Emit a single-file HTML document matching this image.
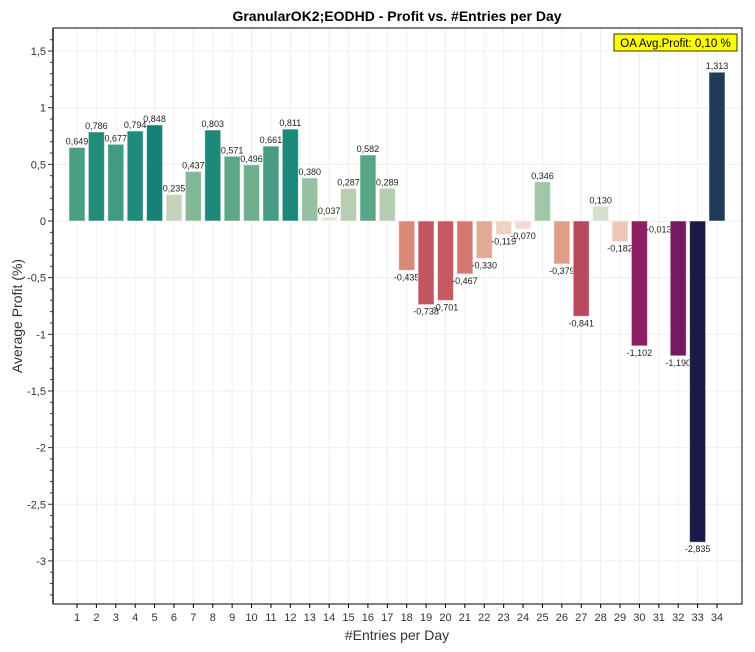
<!DOCTYPE html>
<html><head><meta charset="utf-8"><style>body{margin:0;background:#fff}svg{display:block;font-family:"Liberation Sans",sans-serif}</style></head>
<body><svg id="s" width="755" height="652" xmlns="http://www.w3.org/2000/svg"></svg>
<script>
const v=[0.649,0.786,0.677,0.794,0.848,0.235,0.437,0.803,0.571,0.496,0.661,0.811,0.380,0.037,0.287,0.582,0.289,-0.435,-0.738,-0.701,-0.467,-0.330,-0.119,-0.070,0.346,-0.379,-0.841,0.130,-0.182,-1.102,-0.013,-1.190,-2.835,1.313];
const L=53,T=28,R=742,B=604,Z=221,K=113.3,X0=77,DX=640/33;
const y=t=>Z-t*K;
const P=[[0,[232,236,224]],[0.25,[195,211,185]],[0.5,[111,174,140]],[0.65,[74,158,130]],[0.8,[30,138,122]],[0.85,[23,128,119]],[1.32,[31,58,90]]];
const N=[[0,[245,228,224]],[0.2,[237,196,180]],[0.4,[223,154,128]],[0.47,[210,120,112]],[0.7,[197,90,98]],[0.84,[184,72,92]],[1.1,[140,31,98]],[1.19,[117,26,94]],[2.84,[26,26,72]]];
function col(t){const S=t>=0?P:N;t=Math.abs(t);for(let i=1;i<S.length;i++){if(t<=S[i][0]){const a=S[i-1],b=S[i],f=(t-a[0])/(b[0]-a[0]);return 'rgb('+a[1].map((c,j)=>Math.round(c+(b[1][j]-c)*f)).join(',')+')';}}return 'rgb('+S[S.length-1][1].join(',')+')';}
let h='';
h+=`<text x="397" y="21" font-size="14" font-weight="bold" text-anchor="middle">GranularOK2;EODHD - Profit vs. #Entries per Day</text>`;
for(let i=0;i<34;i++){const x=X0+i*DX;h+=`<line x1="${x}" y1="${T}" x2="${x}" y2="${B}" stroke="#eee"/>`;}
for(let t=-3;t<=1.5;t+=0.5){h+=`<line x1="${L}" y1="${y(t)}" x2="${R}" y2="${y(t)}" stroke="#eee"/>`;}
v.forEach((t,i)=>{const x=X0+i*DX;const y0=y(Math.max(t,0)),hh=Math.abs(t)*K;
h+=`<rect x="${x-8}" y="${y0}" width="16" height="${Math.max(hh,0.5)}" fill="${col(t)}" stroke="#fff" stroke-opacity="0.5" stroke-width="1"/>`;
const s=t.toFixed(3).replace('.',',');
const ly=t>=0?y(t)-3:y(t)+10;
h+=`<text x="${x}" y="${ly}" font-size="9" text-anchor="middle" fill="#222">${s}</text>`;
h+=`<line x1="${x}" y1="${B}" x2="${x}" y2="${B+4}" stroke="#000"/><text x="${x}" y="${B+17}" font-size="11" text-anchor="middle" fill="#333">${i+1}</text>`;});
h+=`<rect x="${L}" y="${T}" width="${R-L}" height="${B-T}" fill="none" stroke="#000" stroke-width="1"/>`;
h+=`<line x1="${L}" y1="${T}" x2="${L}" y2="${B}" stroke="#555" stroke-width="2"/>`;
for(let k=-33;k<=16;k++){const t=k/10,yy=y(t);if(yy<T||yy>B)continue;const maj=k%5==0;h+=`<line x1="${L-(maj?5:3)}" y1="${yy}" x2="${L}" y2="${yy}" stroke="#333"/>`;
if(maj){h+=`<text x="${L-7}" y="${yy+4}" font-size="11" text-anchor="end" fill="#333">${(t).toString().replace('.',',')}</text>`;}}
h+=`<rect x="614" y="34" width="123" height="17" fill="#ffff00" stroke="#000" stroke-width="0.8"/><text x="675.5" y="47" font-size="11.5" text-anchor="middle">OA Avg.Profit: 0,10 %</text>`;
h+=`<text x="397" y="640" font-size="14" text-anchor="middle" fill="#333">#Entries per Day</text>`;
h+=`<text transform="translate(22,316) rotate(-90)" font-size="14" text-anchor="middle" fill="#333">Average Profit (%)</text>`;
document.getElementById('s').innerHTML=h;
</script></body></html>
